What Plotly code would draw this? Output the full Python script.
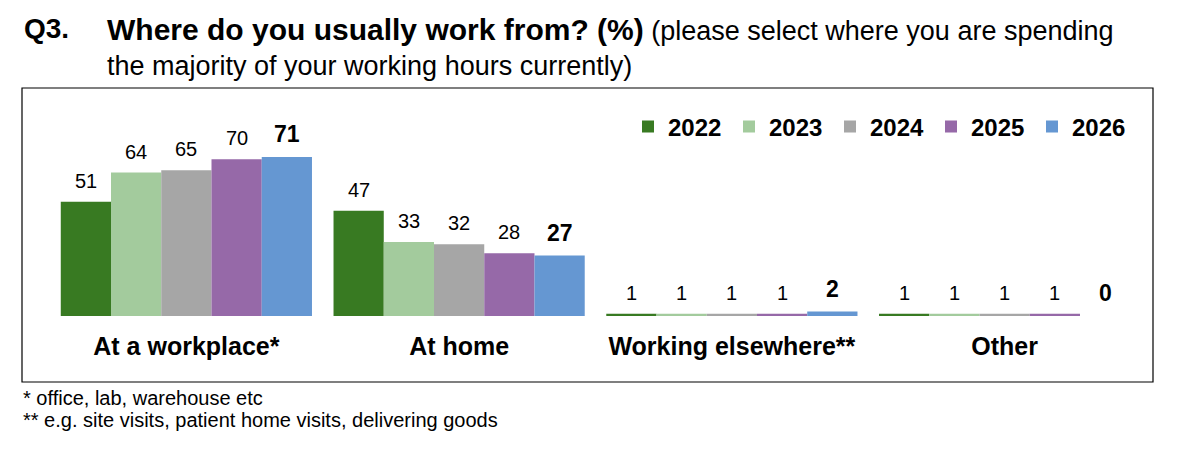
import plotly.graph_objects as go

# data
categories = ["At a workplace*", "At home", "Working elsewhere**", "Other"]
years = ["2022", "2023", "2024", "2025", "2026"]
values_2022 = [51, 47, 1, 1]
values_2023 = [64, 33, 1, 1]
values_2024 = [65, 32, 1, 1]
values_2025 = [70, 28, 1, 1]
values_2026 = [71, 27, 2, 0]

series = [values_2022, values_2023, values_2024, values_2025, values_2026]
colors = ["#387a22", "#a3cb9d", "#a6a6a6", "#9669a8", "#6597d2"]

# page body adds an 8px margin, so the figure is a bit smaller than the window
OFF = 8
W, H = 1179 - OFF, 452 - OFF
FONT = "Liberation Sans, Arial, sans-serif"
BARGAP = 0.079


def px(x):
    return (x - OFF) / W


def py(y):
    return 1 - (y - OFF) / H


fig = go.Figure()
for year, vals, col in zip(years, series, colors):
    fig.add_trace(go.Bar(
        x=categories, y=vals, name=year,
        marker=dict(color=col, line=dict(width=0)),
    ))

# value labels above each bar (last year in bold)
n = len(years)
w = (1 - BARGAP) / n
for j, vals in enumerate(series):
    last = j == n - 1
    for i, v in enumerate(vals):
        fig.add_annotation(
            x=i + (j - (n - 1) / 2) * w, y=v, xref="x", yref="y",
            text=f"<b>{v}</b>" if last else str(v),
            showarrow=False, yanchor="bottom", yshift=8,
            font=dict(family=FONT, size=23 if last else 20, color="black"),
        )

# title
fig.add_annotation(
    x=px(22), y=py(11), xref="paper", yref="paper", xanchor="left", yanchor="top",
    text="<b>Q3.</b>", showarrow=False,
    font=dict(family=FONT, size=28, color="black"),
)
fig.add_annotation(
    x=px(105), y=py(11), xref="paper", yref="paper", xanchor="left", yanchor="top",
    align="left", showarrow=False,
    text="<b><span style='font-size:30px'>Where do you usually work from? (%)</span></b>"
         " (please select where you are spending"
         "<br>the majority of your working hours currently)",
    font=dict(family=FONT, size=27, color="black"),
)

# footnotes
fig.add_annotation(
    x=px(21), y=py(398), xref="paper", yref="paper", xanchor="left", yanchor="middle",
    align="left", showarrow=False, text="* office, lab, warehouse etc",
    font=dict(family=FONT, size=20, color="black"),
)
fig.add_annotation(
    x=px(21), y=py(420), xref="paper", yref="paper", xanchor="left", yanchor="middle",
    align="left", showarrow=False,
    text="** e.g. site visits, patient home visits, delivering goods",
    font=dict(family=FONT, size=20, color="black"),
)

# frame around the chart
fig.add_shape(
    type="rect", xref="paper", yref="paper",
    x0=px(22), x1=px(1153), y0=py(382), y1=py(88),
    line=dict(color="black", width=1.2), fillcolor="rgba(0,0,0,0)",
)

fig.update_layout(
    width=W, height=H,
    margin=dict(l=0, r=0, t=0, b=0),
    paper_bgcolor="white", plot_bgcolor="white",
    barmode="group", bargap=BARGAP, bargroupgap=0,
    showlegend=True,
    legend=dict(
        orientation="h", x=px(1133), xanchor="right", y=py(127), yanchor="middle",
        entrywidth=56,
        font=dict(family=FONT, size=24, color="black", weight="bold"),
        itemclick=False, bgcolor="rgba(0,0,0,0)", traceorder="normal",
    ),
    xaxis=dict(
        domain=[px(50), px(1141)], showline=False, showgrid=False, ticks="",
        tickfont=dict(family=FONT, size=25, color="black", weight="bold"),
        ticklabelstandoff=13,
    ),
    yaxis=dict(
        domain=[py(316), py(100)], range=[0, 96.4],
        visible=False, showgrid=False, zeroline=False,
    ),
)

fig.write_html("out.html")
